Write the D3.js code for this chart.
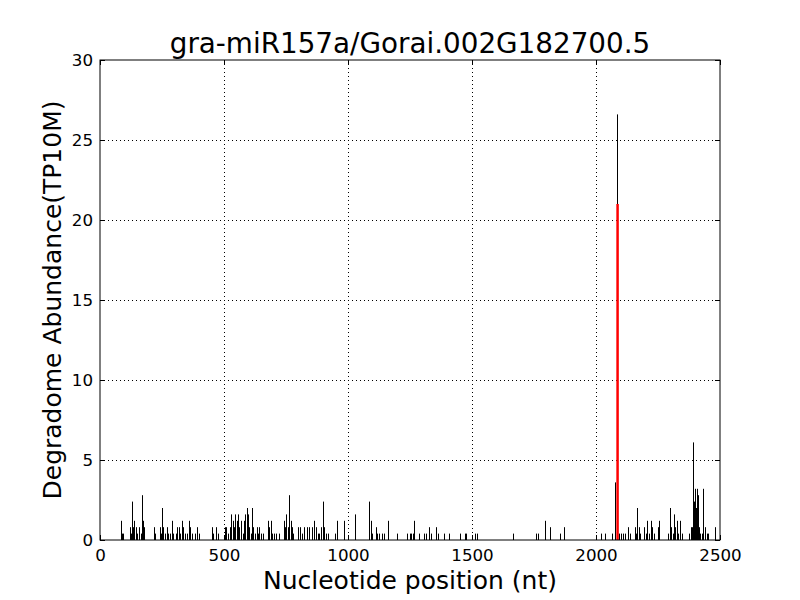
<!DOCTYPE html>
<html><head><meta charset="utf-8">
<script src="https://cdn.jsdelivr.net/npm/d3@7"></script>
<style>body{margin:0;background:#fff;} text{font-family:"DejaVu Sans",sans-serif;}</style>
</head><body><svg id="chart" width="800" height="600"></svg>
<script>
const titleText = "gra-miR157a/Gorai.002G182700.5";
const xLabel = "Nucleotide position (nt)";
const yLabel = "Degradome Abundance(TP10M)";
const xTicks = [0, 500, 1000, 1500, 2000, 2500];
const yTicks = [0, 5, 10, 15, 20, 25, 30];
const positions = [
  85, 90, 94, 121, 125, 129, 134, 138, 145, 150,
  156, 164, 168, 173, 179, 218, 222, 242, 247, 250,
  255, 262, 269, 276, 282, 290, 296, 306, 312, 317,
  323, 332, 336, 343, 352, 357, 363, 370, 383, 390,
  400, 450, 457, 466, 477, 504, 508, 517, 524, 528,
  535, 540, 544, 551, 555, 562, 567, 575, 580, 586,
  591, 597, 602, 607, 613, 618, 625, 632, 638, 641,
  648, 656, 679, 683, 688, 694, 702, 710, 723, 742,
  747, 752, 757, 764, 769, 774, 780, 800, 807, 813,
  824, 833, 844, 855, 863, 870, 878, 885, 890, 898,
  903, 911, 920, 948, 957, 985, 1030, 1086, 1092, 1098,
  1113, 1118, 1126, 1136, 1145, 1163, 1198, 1239, 1248, 1254,
  1261, 1266, 1288, 1308, 1315, 1328, 1335, 1355, 1362, 1387,
  1409, 1452, 1472, 1476, 1512, 1519, 1667, 1758, 1765, 1796,
  1816, 1855, 1869, 2021, 2037, 2064, 2077, 2085, 2086, 2092,
  2100, 2108, 2117, 2131, 2138, 2158, 2162, 2167, 2172, 2178,
  2194, 2201, 2207, 2213, 2221, 2226, 2234, 2248, 2253, 2292,
  2299, 2304, 2310, 2315, 2320, 2326, 2331, 2339, 2346, 2377,
  2382, 2388, 2391, 2395, 2399, 2403, 2408, 2412, 2416, 2421,
  2427, 2433, 2439, 2447, 2453, 2480
];
const values = [
  1.2, 0.4, 0.4, 0.8, 0.4, 2.4, 0.8, 1.2, 0.8, 0.4,
  0.8, 0.4, 2.8, 1.2, 0.8, 0.8, 0.4, 0.8, 0.4, 2.0,
  0.8, 0.4, 0.8, 0.4, 0.4, 1.2, 0.4, 0.4, 0.8, 0.8,
  0.4, 1.2, 0.8, 0.4, 0.4, 1.2, 0.8, 0.4, 0.4, 0.8,
  0.4, 0.8, 0.4, 0.8, 0.4, 0.8, 0.8, 0.4, 0.8, 1.6,
  1.2, 0.8, 1.6, 1.2, 1.6, 0.8, 1.2, 0.4, 1.2, 1.6,
  2.0, 1.6, 0.8, 0.4, 2.0, 0.8, 0.4, 0.8, 0.4, 0.8,
  0.4, 0.4, 1.2, 0.8, 1.2, 0.4, 0.4, 0.4, 0.4, 1.2,
  0.8, 1.6, 0.8, 2.8, 1.2, 0.8, 0.4, 0.8, 0.8, 0.4,
  0.8, 0.8, 0.8, 0.8, 1.2, 0.8, 0.4, 0.4, 0.8, 2.4,
  0.8, 0.4, 0.4, 0.4, 1.2, 1.2, 1.6, 2.4, 1.2, 0.4,
  0.8, 0.4, 0.4, 0.4, 0.4, 1.2, 0.4, 0.4, 0.4, 0.4,
  0.4, 1.2, 0.4, 0.4, 0.4, 0.8, 0.4, 0.8, 0.4, 0.4,
  0.4, 0.4, 0.4, 0.4, 0.4, 0.4, 0.4, 0.4, 0.4, 1.2,
  0.8, 0.4, 0.8, 0.4, 0.4, 0.4, 3.6, 26.6, 21.7, 0.4,
  0.4, 0.4, 0.4, 0.8, 0.4, 0.8, 0.4, 2.0, 0.8, 0.4,
  0.8, 0.4, 1.2, 0.4, 1.2, 0.8, 0.4, 0.8, 1.2, 0.4,
  2.0, 0.8, 0.4, 1.6, 0.8, 1.2, 0.4, 1.2, 0.4, 0.4,
  0.8, 0.8, 6.1, 2.4, 3.2, 2.0, 3.2, 2.8, 0.8, 0.4,
  0.4, 3.2, 0.8, 0.4, 0.4, 0.8
];
const sitePos = [2087];
const siteVal = [21.0];

const svg = d3.select("#chart");
const m = {l:100, r:80, t:60, b:60};
const W = 800, H = 600;
const x = d3.scaleLinear().domain([0,2500]).range([m.l, W-m.r]);
const y = d3.scaleLinear().domain([0,30]).range([H-m.b, m.t]);

// grid
const g = svg.append("g");
g.selectAll(".gx").data(xTicks.slice(1,-1)).enter().append("line")
  .attr("x1",d=>x(d)+0.5).attr("x2",d=>x(d)+0.5).attr("y1",y(30)).attr("y2",y(0))
  .attr("stroke","#000").attr("stroke-width",1).attr("stroke-dasharray","1,3");
g.selectAll(".gy").data(yTicks.slice(1,-1)).enter().append("line")
  .attr("y1",d=>y(d)+0.5).attr("y2",d=>y(d)+0.5).attr("x1",x(0)).attr("x2",x(2500))
  .attr("stroke","#000").attr("stroke-width",1).attr("stroke-dasharray","1,3");

// bars
const data = positions.map((p,i)=>({p, v:values[i]})).filter(d=>d.v!==undefined);
svg.append("g").selectAll("line").data(data).enter().append("line")
  .attr("x1",d=>Math.round(x(d.p))+0.5).attr("x2",d=>Math.round(x(d.p))+0.5)
  .attr("y1",y(0)).attr("y2",d=>y(d.v))
  .attr("stroke","#000").attr("stroke-width",1);
const site = sitePos.map((p,i)=>({p, v:siteVal[i]}));
svg.append("g").selectAll("line").data(site).enter().append("line")
  .attr("x1",d=>x(d.p)).attr("x2",d=>x(d.p))
  .attr("y1",y(0)).attr("y2",d=>y(d.v))
  .attr("stroke","#ff0000").attr("stroke-width",2.5);

// axes
const ax = svg.append("g").attr("transform",`translate(0,${y(0)})`)
  .call(d3.axisBottom(x).tickValues(xTicks).tickSizeInner(-5).tickSizeOuter(0).tickPadding(9).tickFormat(d3.format("d")));
const axT = svg.append("g").attr("transform",`translate(0,${y(30)})`)
  .call(d3.axisTop(x).tickValues(xTicks).tickSizeInner(-5).tickSizeOuter(0).tickFormat(""));
const ay = svg.append("g").attr("transform",`translate(${x(0)},0)`)
  .call(d3.axisLeft(y).tickValues(yTicks).tickSizeInner(-5).tickSizeOuter(0).tickPadding(7).tickFormat(d3.format("d")));
const ayR = svg.append("g").attr("transform",`translate(${x(2500)},0)`)
  .call(d3.axisRight(y).tickValues(yTicks).tickSizeInner(-5).tickSizeOuter(0).tickFormat(""));
[ax,axT,ay,ayR].forEach(a=>{a.select(".domain").remove(); a.selectAll("line").attr("stroke","#000");});
[ax,ay].forEach(a=>a.selectAll("text").attr("font-size","16.7px").attr("fill","#000"));

svg.append("rect").attr("x",x(0)).attr("y",y(30)).attr("width",x(2500)-x(0)).attr("height",y(0)-y(30))
  .attr("fill","none").attr("stroke","#000").attr("stroke-width",1);

svg.append("text").attr("x",(x(0)+x(2500))/2).attr("y",53).attr("text-anchor","middle")
  .attr("font-size","27.8px").text(titleText);
svg.append("text").attr("x",(x(0)+x(2500))/2).attr("y",589).attr("text-anchor","middle")
  .attr("font-size","25px").text(xLabel);
svg.append("text").attr("transform",`translate(61,${(y(0)+y(30))/2}) rotate(-90)`).attr("text-anchor","middle")
  .attr("font-size","25px").text(yLabel);
</script></body></html>
